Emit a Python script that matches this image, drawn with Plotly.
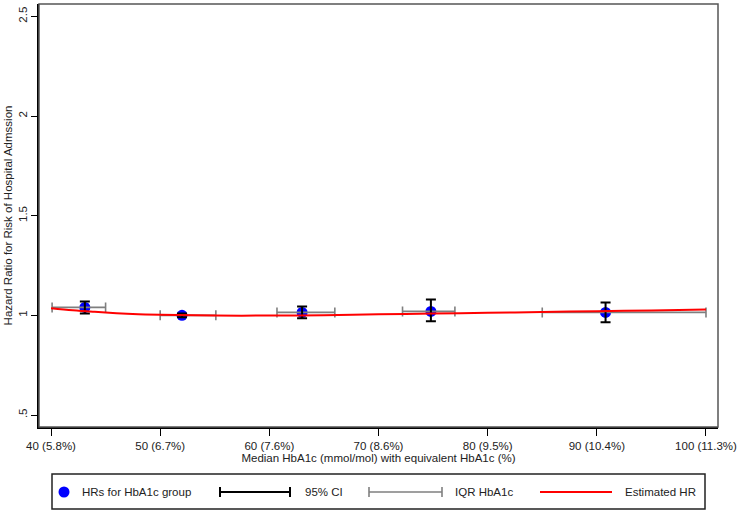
import plotly.graph_objects as go

# ---- data ----
group_median = [43.1, 52.0, 63.0, 74.8, 90.8]
group_hr = [1.04, 1.00, 1.015, 1.02, 1.015]
ci_low = [1.01, 0.99, 0.985, 0.97, 0.965]
ci_high = [1.07, 1.01, 1.045, 1.08, 1.065]
iqr_low = [40.1, 50.0, 60.7, 72.2, 85.0]
iqr_high = [45.0, 55.1, 66.0, 77.0, 100.0]

curve_x = [40, 42, 44, 46, 48, 50, 55, 60, 65, 70, 75, 80, 85, 90, 95, 100]
curve_hr = [1.036, 1.026, 1.018, 1.011, 1.006, 1.003, 0.999, 0.999, 1.001,
            1.005, 1.009, 1.013, 1.017, 1.021, 1.025, 1.029]

x_tickvals = [40, 50, 60, 70, 80, 90, 100]
x_ticktext = ["40 (5.8%)", "50 (6.7%)", "60 (7.6%)", "70 (8.6%)",
              "80 (9.5%)", "90 (10.4%)", "100 (11.3%)"]
y_tickvals = [0.5, 1, 1.5, 2, 2.5]
y_ticktext = [".5", "1", "1.5", "2", "2.5"]

legend_labels = ["HRs for HbA1c group", "95% CI", "IQR HbA1c", "Estimated HR"]

FONT = "Liberation Sans, Arial, sans-serif"
FS = 11.5
TXT = "#222222"
W, H = 740, 514
L, R, T, B = 39, 718, 4, 427


def px(x):
    return (x - L) / (R - L)


def py(y):
    return (B - y) / (B - T)


iqr_plus = [h - m for h, m in zip(iqr_high, group_median)]
iqr_minus = [m - l for m, l in zip(group_median, iqr_low)]
ci_plus = [h - m for h, m in zip(ci_high, group_hr)]
ci_minus = [m - l for m, l in zip(group_hr, ci_low)]

fig = go.Figure()
fig.add_trace(go.Scatter(
    x=group_median, y=group_hr, mode="markers",
    marker=dict(size=11, color="#0000FF"), showlegend=False, hoverinfo="skip"))
fig.add_trace(go.Scatter(
    x=group_median, y=group_hr, mode="markers",
    marker=dict(size=1, color="rgba(0,0,0,0)"),
    error_x=dict(type="data", symmetric=False, array=iqr_plus, arrayminus=iqr_minus,
                 color="#7f7f7f", thickness=1.6, width=5),
    showlegend=False, hoverinfo="skip"))
fig.add_trace(go.Scatter(
    x=group_median, y=group_hr, mode="markers",
    marker=dict(size=1, color="rgba(0,0,0,0)"),
    error_y=dict(type="data", symmetric=False, array=ci_plus, arrayminus=ci_minus,
                 color="#000000", thickness=2, width=5),
    showlegend=False, hoverinfo="skip"))
fig.add_trace(go.Scatter(
    x=curve_x, y=curve_hr, mode="lines", line=dict(color="#FF0000", width=2),
    line_shape="spline", showlegend=False, hoverinfo="skip"))

shapes = []
annotations = []
# plot frame (top/right in gray)
shapes.append(dict(type="rect", xref="paper", yref="paper", x0=0, x1=1, y0=0, y1=1,
                   line=dict(color="#555555", width=1.5), layer="above"))

# manual legend
ly = 492
shapes.append(dict(type="rect", xref="paper", yref="paper",
                   x0=px(52), x1=px(705), y0=py(509), y1=py(474),
                   line=dict(color="#222222", width=1.5)))
shapes.append(dict(type="circle", xref="paper", yref="paper",
                   x0=px(58.5), x1=px(69.5), y0=py(497.5), y1=py(486.5),
                   fillcolor="#0000FF", line=dict(color="#0000FF", width=0)))


def capline(x0, x1, color, width):
    shapes.append(dict(type="line", xref="paper", yref="paper",
                       x0=px(x0), x1=px(x1), y0=py(ly), y1=py(ly),
                       line=dict(color=color, width=width)))
    for xx in (x0, x1):
        shapes.append(dict(type="line", xref="paper", yref="paper",
                           x0=px(xx), x1=px(xx), y0=py(ly - 5), y1=py(ly + 5),
                           line=dict(color=color, width=width)))


capline(220, 290, "#000000", 2)
capline(369, 442, "#7f7f7f", 1.6)
shapes.append(dict(type="line", xref="paper", yref="paper",
                   x0=px(540), x1=px(612), y0=py(ly), y1=py(ly),
                   line=dict(color="#FF0000", width=2)))

for xpos, txt in zip([80, 303, 453, 623], legend_labels):
    annotations.append(dict(xref="paper", yref="paper", x=px(xpos), y=py(ly),
                            text=txt, showarrow=False, xanchor="left", yanchor="middle",
                            font=dict(family=FONT, size=FS, color=TXT)))

fig.update_layout(
    width=W, height=H,
    margin=dict(l=L, r=W - R, t=T, b=H - B, autoexpand=False),
    paper_bgcolor="white", plot_bgcolor="white",
    font=dict(family=FONT, size=FS, color=TXT),
    shapes=shapes, annotations=annotations,
    xaxis=dict(range=[38.90, 101.10], tickvals=x_tickvals, ticktext=x_ticktext,
               ticks="outside", ticklen=7, tickwidth=1.2, tickcolor="#000000",
               showgrid=False, zeroline=False, showline=True, linecolor="#000000",
               linewidth=1.5, tickfont=dict(size=FS, color=TXT),
               title=dict(text="Median HbA1c (mmol/mol) with equivalent HbA1c (%)",
                          font=dict(size=FS, color=TXT), standoff=0),
               automargin=False),
    yaxis=dict(range=[0.44, 2.562], tickvals=y_tickvals, ticktext=y_ticktext,
               ticks="outside", ticklen=6, tickwidth=1.2, tickcolor="#000000",
               tickangle=-90,
               showgrid=False, zeroline=False, showline=True, linecolor="#000000",
               linewidth=1.5, tickfont=dict(size=FS, color=TXT),
               title=dict(text="Hazard Ratio for Risk of Hospital Admssion",
                          font=dict(size=FS, color=TXT), standoff=2),
               automargin=False),
)

fig.write_html("out.html",
               config={"displayModeBar": False},
               post_script="document.body.style.margin='0';"
                           "document.body.style.overflow='hidden';")
